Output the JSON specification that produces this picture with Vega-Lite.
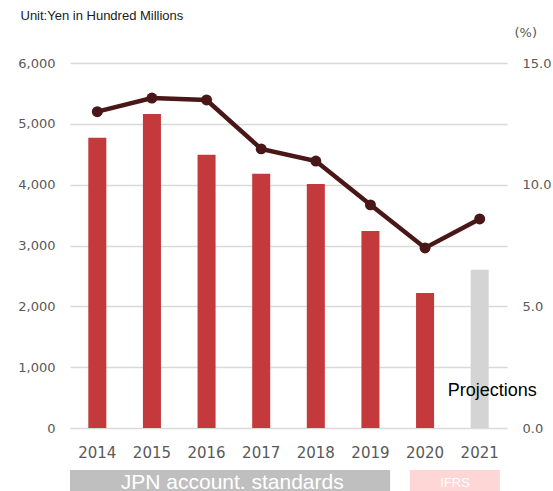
{
  "$schema": "https://vega.github.io/schema/vega-lite/v6.json",
  "padding": {"left": 17, "top": 9, "right": 0, "bottom": 0},
  "config": {"view": {"stroke": null}, "font": "Liberation Sans"},
  "spacing": 10,
  "resolve": {"scale": {"x": "independent", "color": "independent"}},
  "vconcat": [
    {
      "width": 437,
      "height": 365,
      "data": {"values": [
        {"year": "2014", "sales": 4770, "ratio": 13.0, "status": "Actual"},
        {"year": "2015", "sales": 5160, "ratio": 13.56, "status": "Actual"},
        {"year": "2016", "sales": 4490, "ratio": 13.48, "status": "Actual"},
        {"year": "2017", "sales": 4180, "ratio": 11.47, "status": "Actual"},
        {"year": "2018", "sales": 4010, "ratio": 10.97, "status": "Actual"},
        {"year": "2019", "sales": 3240, "ratio": 9.17, "status": "Actual"},
        {"year": "2020", "sales": 2220, "ratio": 7.4, "status": "Actual"},
        {"year": "2021", "sales": 2600, "ratio": 8.59, "status": "Projection", "note": "Projections"}
      ]},
      "encoding": {
        "x": {
          "field": "year", "type": "ordinal",
          "scale": {"paddingInner": 0.67, "paddingOuter": 0.335},
          "axis": {"title": null, "labelAngle": 0, "labelFont": "DejaVu Sans", "labelFontSize": 15, "labelColor": "#595959", "labelPadding": 17, "ticks": false, "domain": false}
        }
      },
      "layer": [
        {
          "layer": [
            {
              "mark": {"type": "bar"},
              "encoding": {
                "y": {
                  "field": "sales", "type": "quantitative",
                  "scale": {"domain": [0, 6000], "nice": false},
                  "axis": {
                    "title": "Unit:Yen in Hundred Millions", "titleAngle": 0, "titleAlign": "left", "titleBaseline": "alphabetic",
                    "titleX": -50, "titleY": -44, "titleFont": "Liberation Sans", "titleFontSize": 13, "titleFontWeight": "normal", "titleColor": "#1a1a1a",
                    "values": [0, 1000, 2000, 3000, 4000, 5000, 6000], "format": ",", "labelExpr": "format(datum.value, ',')",
                    "labelFont": "DejaVu Sans", "labelFontSize": 13, "labelColor": "#595959", "labelPadding": 15,
                    "ticks": false, "domain": false, "grid": true, "gridColor": "#d9d9d9", "gridWidth": 1.5
                  }
                },
                "color": {"field": "status", "type": "nominal", "scale": {"domain": ["Actual", "Projection"], "range": ["#c43a3c", "#d4d4d4"]}, "legend": null}
              }
            },
            {
              "transform": [{"filter": "datum.note"}],
              "mark": {"type": "text", "font": "Liberation Sans", "fontSize": 18, "color": "#000000", "align": "center", "baseline": "alphabetic", "dx": 12.5, "dy": -32},
              "encoding": {
                "y": {"datum": 0, "type": "quantitative"},
                "text": {"field": "note"}
              }
            }
          ]
        },
        {
          "encoding": {
            "y": {
              "field": "ratio", "type": "quantitative",
              "scale": {"domain": [0, 15], "nice": false},
              "axis": {
                "orient": "right", "title": "(%)", "titleAngle": 0, "titleAlign": "left", "titleBaseline": "alphabetic",
                "titleX": 7, "titleY": -27, "titleFont": "DejaVu Sans", "titleFontSize": 13, "titleFontWeight": "normal", "titleColor": "#595959",
                "values": [0, 5, 10, 15], "format": ".1f",
                "labelFont": "DejaVu Sans", "labelFontSize": 13, "labelColor": "#595959", "labelPadding": 15,
                "ticks": false, "domain": false, "grid": false
              }
            }
          },
          "layer": [
            {"mark": {"type": "line", "color": "#4a1718", "strokeWidth": 4.5}},
            {"mark": {"type": "point", "filled": true, "opacity": 1, "size": 120, "color": "#4a1718"}}
          ]
        }
      ],
      "resolve": {"scale": {"y": "independent"}}
    },
    {
      "width": 437,
      "height": 23,
      "data": {"values": [
        {"system": "JPN account. standards", "from": "2014", "to": "2019"},
        {"system": "IFRS", "from": "2020", "to": "2021"}
      ]},
      "encoding": {
        "x": {
          "field": "from", "type": "ordinal",
          "scale": {"type": "band", "domain": ["2014", "2015", "2016", "2017", "2018", "2019", "2020", "2021"], "paddingInner": 0, "paddingOuter": 0},
          "axis": null
        }
      },
      "layer": [
        {
          "transform": [{"filter": "datum.system === 'JPN account. standards'"}],
          "mark": {"type": "rect"},
          "encoding": {
            "x": {"field": "from", "type": "ordinal", "bandPosition": 0},
            "x2": {"field": "to", "bandPosition": 0.86},
            "color": {"field": "system", "type": "nominal", "scale": {"domain": ["JPN account. standards", "IFRS"], "range": ["#bfbfbf", "#ffd6d6"]}, "legend": null}
          }
        },
        {
          "transform": [{"filter": "datum.system === 'IFRS'"}],
          "mark": {"type": "rect"},
          "encoding": {
            "x": {"field": "from", "type": "ordinal", "bandPosition": 0.22},
            "x2": {"field": "to", "bandPosition": 0.87},
            "color": {"field": "system", "type": "nominal", "scale": {"domain": ["JPN account. standards", "IFRS"], "range": ["#bfbfbf", "#ffd6d6"]}, "legend": null}
          }
        },
        {
          "transform": [{"filter": "datum.system === 'JPN account. standards'"}],
          "mark": {"type": "text", "font": "Liberation Sans", "fontSize": 21, "align": "center", "baseline": "middle", "dy": 1},
          "encoding": {
            "x": {"field": "from", "type": "ordinal", "bandPosition": 2.97},
            "text": {"field": "system"},
            "color": {"value": "#ffffff"}
          }
        },
        {
          "transform": [{"filter": "datum.system === 'IFRS'"}],
          "mark": {"type": "text", "font": "Liberation Sans", "fontSize": 13, "align": "center", "baseline": "middle", "dy": 1},
          "encoding": {
            "x": {"field": "from", "type": "ordinal", "bandPosition": 1.05},
            "text": {"field": "system"},
            "color": {"value": "#ffffff"}
          }
        }
      ]
    }
  ]
}
